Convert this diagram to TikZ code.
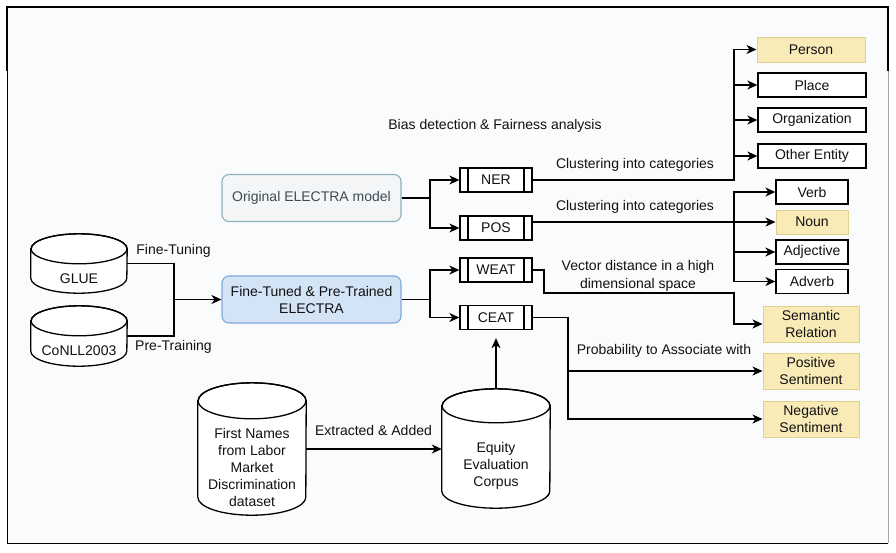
\documentclass[tikz,border=0pt]{standalone}
\usepackage{fontspec}
\setmainfont{Liberation Sans}
\usetikzlibrary{calc,arrows.meta}
\definecolor{ylwfill}{HTML}{F9EBB7}
\definecolor{ylwdraw}{HTML}{E2D08E}
\definecolor{bluefill}{HTML}{D4E4F7}
\definecolor{bluedraw}{HTML}{7FA8DC}
\definecolor{origfill}{HTML}{F3F5F6}
\definecolor{origdraw}{HTML}{8DB0C0}
\definecolor{origtext}{HTML}{3E4C56}
\definecolor{bgfill}{HTML}{FAFBFD}
\definecolor{txt}{HTML}{111111}
\tikzset{
  every node/.style={font=\fontsize{14}{17}\selectfont, text=txt},
  ln/.style={line width=1.3pt, draw=black},
  arr/.style={ln, -{Stealth[length=10pt,width=9pt,inset=3pt]}},
  box/.style={ln, rectangle, inner sep=0pt, align=center, fill=white},
  ybox/.style={rectangle, inner sep=0pt, align=center, fill=ylwfill, draw=ylwdraw, line width=1pt},
  proc/.style={box, minimum width=72pt, minimum height=24pt,
    path picture={\draw[ln] ([xshift=8pt]path picture bounding box.north west) -- ([xshift=8pt]path picture bounding box.south west);
                  \draw[ln] ([xshift=-8pt]path picture bounding box.north east) -- ([xshift=-8pt]path picture bounding box.south east);}},
  elec/.style={rectangle, rounded corners=7pt, inner sep=0pt, align=center, minimum width=179pt, minimum height=47pt, line width=1.1pt},
  cylbox/.style={rectangle, inner sep=0pt},
  lbl/.style={inner sep=0pt, align=center},
}
\newcommand\cylnode[7]{%
  \node[cylbox, minimum width=#4pt, minimum height=#5pt] (#1) at (#2,#3) {};
  \draw[ln, fill=white] ($(#1.north west)+(0,#6)$) -- ($(#1.south west)+(0,-#6)$)
     arc[start angle=180, end angle=360, x radius={#4pt/2}, y radius=#6pt]
     -- ($(#1.north east)+(0,#6)$)
     arc[start angle=0, end angle=180, x radius={#4pt/2}, y radius=#6pt] -- cycle;
  \draw[ln] ($(#1.north)+(0,#6)$) ellipse[x radius={#4pt/2}, y radius=#6pt];
  \node[lbl] (#1-t) at ($(#1.center)+(0,#6)$) {#7};
}
\begin{document}
\begin{tikzpicture}[x=1pt,y=-1pt]
\useasboundingbox (0,0) rectangle (896,552);
\fill[white] (0,0) rectangle (896,552);
\fill[bgfill] (7,7) rectangle (888,543);
% frame
\draw[black, line width=1pt] (7,71) -- (7,543) -- (888,543);
\draw[black!35, line width=0.6pt] (888,543) -- (888,71);
\draw[black, line width=1.6pt] (7,71) -- (7,7) -- (888,7) -- (888,71);

% title text
\node[lbl] (bias) at (495,126) {Bias detection \& Fairness analysis};

% datasets
\cylnode{glue}{79}{263.5}{96}{59}{15}{GLUE}
\cylnode{conll}{79}{336}{96}{60}{15}{CoNLL2003}
\cylnode{fn}{252}{449}{108}{132}{18}{First Names\\from Labor\\Market\\Discrimination\\dataset}
\cylnode{eec}{496}{448.5}{108}{119}{17}{Equity\\Evaluation\\Corpus}

% models
\node[elec, fill=origfill, draw=origdraw, text=origtext] (orig) at (311.5,198) {Original ELECTRA model};
\node[elec, fill=bluefill, draw=bluedraw] (ft) at (311.5,299.5) {Fine-Tuned \& Pre-Trained\\ELECTRA};

% tests
\node[proc] (ner) at (496,180) {NER};
\node[proc] (pos) at (496,228) {POS};
\node[proc] (weat) at (496,270) {WEAT};
\node[proc] (ceat) at (496,317.5) {CEAT};

% outputs
\node[ybox, minimum width=108pt, minimum height=25pt] (person) at (811,49.5) {Person};
\node[box, minimum width=108pt, minimum height=24pt] (place) at (812,85) {Place};
\node[box, minimum width=108pt, minimum height=24pt] (org) at (812,120) {Organization};
\node[box, minimum width=108pt, minimum height=24pt] (other) at (812,156) {Other Entity};
\node[box, minimum width=72pt, minimum height=24pt] (verb) at (812,192) {Verb};
\node[ybox, minimum width=72pt, minimum height=24pt] (noun) at (812,222) {Noun};
\node[box, minimum width=72pt, minimum height=24pt] (adj) at (812,252) {Adjective};
\node[box, minimum width=72pt, minimum height=24pt] (adv) at (812,281.5) {Adverb};
\node[ybox, minimum width=96pt, minimum height=36pt] (sem) at (811,324) {Semantic\\Relation};
\node[ybox, minimum width=96pt, minimum height=36pt] (possent) at (811,371) {Positive\\Sentiment};
\node[ybox, minimum width=96pt, minimum height=36pt] (negsent) at (811,419) {Negative\\Sentiment};

% junction coordinates
\coordinate (jg) at (174,299.5);
\coordinate (tr) at (430,0);
\coordinate (tn) at (734,0);
\coordinate (tc) at (568,0);
\coordinate (w1) at (544,293);

% dataset -> ELECTRA
\draw[ln] (glue.east) -| (jg);
\draw[ln] (conll.east) -| (jg);
\draw[arr] (jg) -- (ft.west);
\node[lbl] (lft) at (173.5,251) {Fine-Tuning};
\node[lbl] (lpt) at (173.5,347) {Pre-Training};

% ELECTRA -> tests
\draw[arr] (orig.east) -- (orig.east -| tr) |- (ner.west);
\draw[arr] (orig.east -| tr) |- (pos.west);
\draw[arr] (ft.east) -- (ft.east -| tr) |- (ceat.west);
\draw[arr] (ft.east -| tr) |- (weat.west);

% NER
\draw[arr] (ner.east) -| (person.west -| tn) -- (person.west);
\draw[arr] (place.west -| tn) -- (place.west);
\draw[arr] (org.west -| tn) -- (org.west);
\draw[arr] (other.west -| tn) -- (other.west);
\node[lbl] (lner) at (635,165) {Clustering into categories};

% POS
\draw[arr] (pos.east |- noun.west) -- (noun.west);
\draw[arr] (adv.west -| tn) |- (verb.west);
\draw[arr] (adj.west -| tn) -- (adj.west);
\draw[arr] (adv.west -| tn) -- (adv.west);
\node[lbl] (lpos) at (635,207) {Clustering into categories};

% WEAT
\draw[arr] (weat.east) -| (w1) -| (sem.west -| tn) -- (sem.west);
\node[lbl, font=\fontsize{14}{18}\selectfont] (lweat) at (638,276) {Vector distance in a high\\dimensional space};

% CEAT
\draw[arr] (ceat.east) -| (possent.west -| tc) -- (possent.west);
\draw[arr] (possent.west -| tc) |- (negsent.west);
\node[lbl] (lceat) at (664,351) {Probability to Associate with};

% EEC
\draw[arr, shorten >=8pt] (eec.north) -- (ceat.south);
\draw[arr] (fn.east) -- (fn.east -| eec.west);
\node[lbl] (lext) at (373.5,430) {Extracted \& Added};
\end{tikzpicture}
\end{document}
